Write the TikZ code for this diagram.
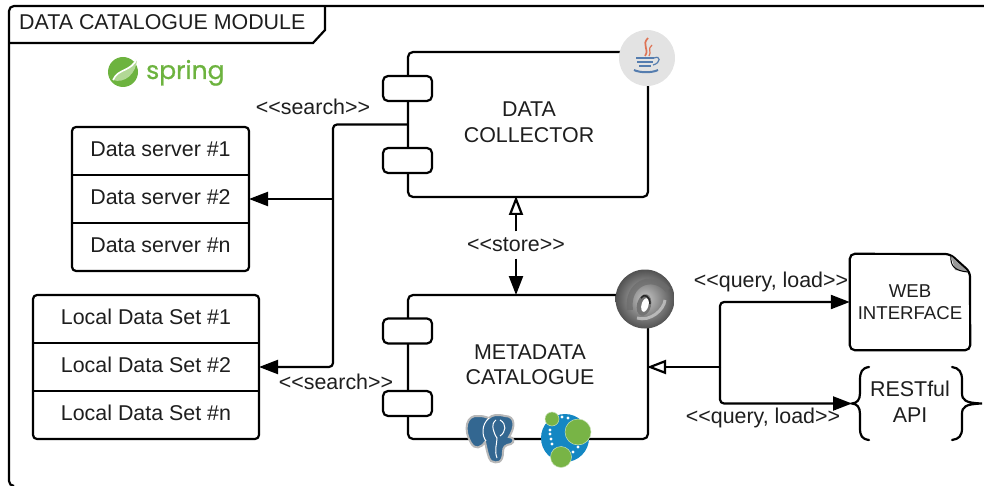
\documentclass[tikz,border=0pt]{standalone}
\usepackage{fontspec}
\setmainfont{Liberation Sans}
\newfontfamily\logofont[FakeBold=0.8]{Poppins}
\usetikzlibrary{arrows.meta, positioning, calc}
\definecolor{SpringGreen}{RGB}{109, 179, 63}
\definecolor{SpringLight}{RGB}{178, 216, 150}
\definecolor{PgBlue}{RGB}{51, 103, 145}
\definecolor{NeoBlue}{RGB}{20, 135, 195}
\definecolor{NeoGreen}{RGB}{120, 180, 70}
\definecolor{JavaBlue}{RGB}{85, 125, 175}
\definecolor{JavaRed}{RGB}{222, 115, 85}
\definecolor{Ink}{RGB}{30, 30, 30}

\begin{document}
\begin{tikzpicture}[
        x=1pt, y=-1pt,
        every node/.style={text=Ink, font=\fontsize{21.4}{25.5}\selectfont},
        row/.style={minimum height=48pt, text depth=4pt, inner sep=0pt, outer sep=0pt},
        component/.style={draw=black, line width=2.2pt, rounded corners=5pt, fill=white, minimum width=240pt, minimum height=145pt, inner sep=0pt, outer sep=0pt},
        port/.style={draw=black, line width=2.2pt, rounded corners=5pt, fill=white, minimum width=49pt, minimum height=25pt, inner sep=0pt, outer sep=0pt},
        line/.style={draw=black, line width=2.2pt},
        filledarrow/.style={line, -{Triangle[length=19pt, width=14pt]}},
        openarrow/.style={line, shorten >=-1pt, -{Triangle[open, fill=white, length=19pt, width=14pt]}}
    ]
        \useasboundingbox (0,0) rectangle (984,486);

        % outer frame
        \draw [line, rounded corners=5pt] (984,6) -- (9,6) -- (9,486) -- (14,486);
        \draw [line] (9,43) -- (313,43) -- (325,30) -- (325,6);
        \node [anchor=west, inner sep=0pt] (title) at (19,22) {DATA CATALOGUE MODULE};

        % spring logo
        \fill [SpringGreen] (123,72) circle (15);
        \fill [SpringLight] (137,58) .. controls (137,74) and (124,84) .. (113,80) .. controls (116,70) and (128,72) .. (137,58) -- cycle;
        \draw [white, line width=1.6pt] (137,58) .. controls (132,72) and (118,68) .. (113,80);
        \node [anchor=base west, inner sep=0pt, text=SpringGreen, font=\fontsize{25}{30}\logofont\selectfont] (spring) at (146,79) {spring};

        % data servers
        \node [row, minimum width=177pt] (ds1) at (160.5,151) {Data server \#1};
        \node [row, minimum width=177pt, below=0pt of ds1] (ds2) {Data server \#2};
        \node [row, minimum width=177pt, below=0pt of ds2] (dsn) {Data server \#n};
        \draw [line, rounded corners=4pt] (ds1.north west) rectangle (dsn.south east);
        \draw [line] (ds1.south west) -- (ds1.south east);
        \draw [line] (ds2.south west) -- (ds2.south east);

        % local data sets
        \node [row, minimum width=226pt] (ls1) at (146,319) {Local Data Set \#1};
        \node [row, minimum width=226pt, below=0pt of ls1] (ls2) {Local Data Set \#2};
        \node [row, minimum width=226pt, below=0pt of ls2] (lsn) {Local Data Set \#n};
        \draw [line, rounded corners=4pt] (ls1.north west) rectangle (lsn.south east);
        \draw [line] (ls1.south west) -- (ls1.south east);
        \draw [line] (ls2.south west) -- (ls2.south east);

        % components
        \node [component] (collector) at (528,124.5) {};
        \node [align=center] (collectortext) at (529,122) {DATA\\COLLECTOR};
        \node [port] (cport1) at (407.5,88.5) {};
        \node [port] (cport2) at (407.5,160.5) {};
        \node [component, minimum height=144pt] (catalogue) at (528,367) {};
        \node [align=center] (cataloguetext) at (530,364.5) {METADATA\\CATALOGUE};
        \node [port] (mport1) at (407.5,331) {};
        \node [port] (mport2) at (407.5,403.5) {};

        % java logo
        \node [circle, fill=black!11, minimum size=56pt, inner sep=0pt] (java) at (647,58) {};
        \draw [JavaRed, line width=1.7pt] (648,38) .. controls (641,45) and (650,49) .. (645,56);
        \draw [JavaRed, line width=1.2pt] (652,45) .. controls (647,49) and (652,52) .. (649,56);
        \draw [JavaBlue, line width=1.5pt] (636,58) -- (654,58) (637,62) -- (653,62) (639,66) -- (651,66);
        \draw [JavaBlue, line width=1.2pt] (654,58) .. controls (661,55) and (661,63) .. (653,65);
        \draw [JavaBlue, line width=2pt] (634,70) .. controls (640,73) and (652,73) .. (658,70);

        % catalogue logo
        \shade [inner color=black!22, outer color=black!68] (645,299) circle (29.5);
        \draw [black!58, line width=6pt, opacity=0.7] (630,310) .. controls (626,284) and (652,272) .. (668,290);
        \draw [black!18, line width=3pt, opacity=0.7] (637,318) .. controls (650,322) and (664,310) .. (665,300);
        \fill [black!55, rotate around={-15:(644,305)}] (644,305) ellipse (7 and 11);
        \fill [white, rotate around={-15:(645,305)}] (645,305) ellipse (3.5 and 7);
        \draw [black!85, line width=1.5pt] (641,298) .. controls (644,293) and (650,296) .. (650,304);

        % postgres logo
        \path [fill=PgBlue, draw=black!28, line width=2pt] (479,416) .. controls (466,414) and (463,430) .. (471,443) .. controls (475,450) and (481,448) .. (485,442) .. controls (487,450) and (488,458) .. (491,461) .. controls (497,464) and (503,463) .. (503,452) .. controls (503,447) and (505,445) .. (511,444) .. controls (515,442) and (514,437) .. (509,437) .. controls (515,428) and (516,416) .. (505,416) .. controls (497,414) and (492,415) .. (489,418) .. controls (486,417) and (483,416) .. (479,416) -- cycle;
        \draw [white, line width=1pt] (489,418) .. controls (481,425) and (482,436) .. (486,441) (496,420) .. controls (490,424) and (494,434) .. (497,438) .. controls (497,444) and (494,450) .. (497,458) (500,420) .. controls (507,424) and (506,432) .. (500,436);

        % neo4j logo
        \fill [NeoBlue] (565,438) circle (24);
        \foreach \dotx/\doty in {562/417,568/418,550/430,550/434,551/439,552/444,555/450,573/452,578/447}
            \fill [white] (\dotx,\doty) circle (1.7);
        \fill [NeoGreen, draw=white!60!NeoGreen, line width=0.5pt] (578,432) circle (13);
        \fill [NeoGreen, draw=white!60!NeoGreen, line width=0.5pt] (561,457) circle (10.5);
        \fill [NeoGreen, draw=white!60!NeoGreen, line width=0.5pt] (552,419) circle (7);

        % web interface
        \node [inner sep=0pt, align=center, minimum width=120pt, minimum height=96pt, font=\fontsize{18.6}{22}\selectfont] (web) at (910,302) {WEB\\INTERFACE};
        \draw [line, rounded corners=5pt] (web.north west) -- (950,254) -- (970,272) -- (web.south east) -- (web.south west) -- cycle;
        \fill [black!40] (951,256) -- (968,272) -- (955,270) -- cycle;
        \draw [line, line width=1pt] (951,256) .. controls (950,266) and (955,271) .. (968,272);

        % restful api
        \node [inner sep=0pt, align=center, minimum width=116pt, minimum height=73pt] (api) at (910,401.5) {RESTful\\API};
        \coordinate (apiwest) at (852,403.5);
        \draw [line, line cap=round] (869,367) .. controls (862,368) and (860,372) .. (860,380) -- (860,393) .. controls (860,400) and (857,403) .. (852,403.5) .. controls (857,404) and (860,407) .. (860,414) -- (860,428) .. controls (860,436) and (862,439) .. (869,440);
        \draw [line, line cap=round] (952,367) .. controls (959,368) and (962,372) .. (962,380) -- (962,393) .. controls (962,400) and (965,403) .. (982,403.5) .. controls (965,404) and (962,407) .. (962,414) -- (962,428) .. controls (962,436) and (959,439) .. (952,440);

        % connectors
        \coordinate (trunk) at (333,199);
        \coordinate (fork) at (720,367);
        \draw [filledarrow, rounded corners=4pt] (collector.west) -| (trunk) |- (ls2.east);
        \draw [filledarrow] (trunk) -- (ds2.east);
        \node (searchtop) at (313,107) {<{}<search>{}>};
        \node (searchlow) at (336,382) {<{}<search>{}>};

        \node [inner sep=0pt, minimum height=27pt] (store) at (516,245) {<{}<store>{}>};
        \draw [openarrow] (store.north) -- (store.north |- collector.south);
        \draw [filledarrow] (store.south) -- (store.south |- catalogue.north);

        \draw [openarrow] (fork) -- (catalogue.east);
        \draw [filledarrow, rounded corners=4pt] (fork) |- (web.west);
        \draw [filledarrow, rounded corners=4pt] (fork) |- (apiwest);
        \node (querytop) at (771,282) {<{}<query, load>{}>};
        \node (querylow) at (763,418) {<{}<query, load>{}>};
    \end{tikzpicture}
\end{document}
